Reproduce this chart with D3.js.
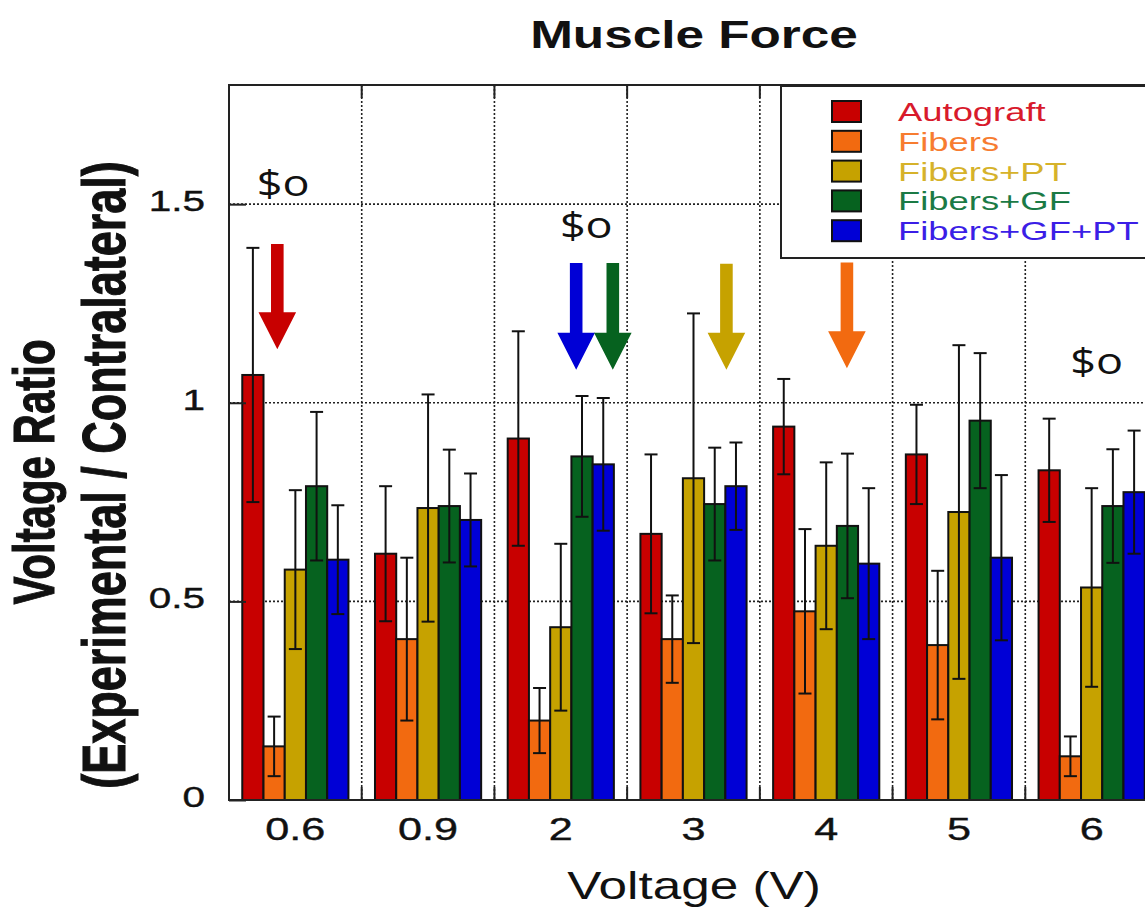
<!doctype html>
<html>
<head>
<meta charset="utf-8"/>
<title>Muscle Force</title>
<script src="https://d3js.org/d3.v7.min.js"></script>
<style>
 body { margin:0; background:#fff; }
</style>
</head>
<body>
<script type="text/javascript">
// ---- data ----
var groups = ["0.6", "0.9", "2", "3", "4", "5", "6"];
var series = ["Autograft", "Fibers", "Fibers+PT", "Fibers+GF", "Fibers+GF+PT"];

var autograft      = [1.07, 0.62, 0.91, 0.67, 0.94, 0.87, 0.83];
var autograftErr   = [0.32, 0.17, 0.27, 0.20, 0.12, 0.125, 0.13];
var fibers         = [0.135, 0.405, 0.20, 0.405, 0.475, 0.39, 0.11];
var fibersErr      = [0.075, 0.205, 0.082, 0.11, 0.207, 0.187, 0.05];
var fibersPT       = [0.58, 0.735, 0.435, 0.81, 0.64, 0.725, 0.535];
var fibersPTErr    = [0.20, 0.286, 0.21, 0.415, 0.21, 0.42, 0.25];
var fibersGF       = [0.79, 0.74, 0.865, 0.745, 0.69, 0.955, 0.74];
var fibersGFErr    = [0.187, 0.142, 0.152, 0.142, 0.182, 0.17, 0.143];
var fibersGFPT     = [0.605, 0.705, 0.845, 0.79, 0.595, 0.61, 0.775];
var fibersGFPTErr  = [0.137, 0.117, 0.167, 0.11, 0.19, 0.208, 0.155];

var yTicks = [0, 0.5, 1, 1.5];

// arrows: [group, series index, position inside group (0..1), top value, tip value]
var arrows = [
  ["0.6", 0, 0.33, 1.40, 1.135],
  ["2",   4, 0.645, 1.352, 1.083],
  ["2",   3, 0.99, 1.352, 1.083],
  ["3",   2, 0.81, 1.35, 1.083],
  ["4",   1, 0.695, 1.353, 1.087]
];
// "$o" marks: [group, position inside group, baseline value]
var marks = [
  ["0.6", 0.384, 1.52],
  ["2",   0.74, 1.416],
  ["6",   0.548, 1.073]
];

var values = [autograft, fibers, fibersPT, fibersGF, fibersGFPT];
var errors = [autograftErr, fibersErr, fibersPTErr, fibersGFErr, fibersGFPTErr];

var barColor  = ["#c80000", "#f26a10", "#c6a200", "#06621f", "#0000d6"];
var textColor = ["#d81a2c", "#f77c30", "#d6b22a", "#1b7a45", "#3b1ee6"];

// ---- layout ----
var W = 1145, H = 907;
var pLeft = 229, pTop = 85, pBottom = 800, pRight = 1158;
var SX = 1.35;   // the figure's text is stretched horizontally
var FONT = "'Liberation Sans', Arial, sans-serif";

var svg = d3.select("body").append("svg")
  .attr("width", W).attr("height", H);

var x0 = d3.scaleBand().domain(groups).range([pLeft, pRight])
  .paddingInner(0.2).paddingOuter(0.1);
var x1 = d3.scaleBand().domain(d3.range(series.length)).range([0, x0.bandwidth()]);
var y = d3.scaleLinear().domain([0, 1.8]).range([pBottom, pTop]);

var step = x0.step();
var bounds = d3.range(1, groups.length).map(function(i){ return pLeft + i * step; });

// grid
var grid = svg.append("g").attr("stroke", "#222").attr("stroke-width", 1.6)
  .attr("stroke-dasharray", "2,2");
grid.selectAll(".hg").data([0.5, 1, 1.5]).enter().append("line")
  .attr("x1", pLeft).attr("x2", pRight)
  .attr("y1", function(d){ return y(d); }).attr("y2", function(d){ return y(d); });
grid.selectAll(".vg").data(bounds).enter().append("line")
  .attr("x1", function(d){ return d; }).attr("x2", function(d){ return d; })
  .attr("y1", pTop).attr("y2", pBottom);

// boundary tick marks top & bottom
var tk = svg.append("g").attr("stroke", "#222").attr("stroke-width", 2);
tk.selectAll(".tt").data(bounds).enter().append("line")
  .attr("x1", function(d){ return d; }).attr("x2", function(d){ return d; })
  .attr("y1", pTop).attr("y2", pTop + 13);
tk.selectAll(".tb").data(bounds).enter().append("line")
  .attr("x1", function(d){ return d; }).attr("x2", function(d){ return d; })
  .attr("y1", pBottom).attr("y2", pBottom - 13);

// bars
var rows = [];
groups.forEach(function(g, gi){
  series.forEach(function(s, si){
    rows.push({g: g, si: si, v: values[si][gi], e: errors[si][gi]});
  });
});

svg.append("g").selectAll("rect").data(rows).enter().append("rect")
  .attr("x", function(d){ return x0(d.g) + x1(d.si); })
  .attr("y", function(d){ return y(d.v); })
  .attr("width", x1.bandwidth())
  .attr("height", function(d){ return y(0) - y(d.v); })
  .attr("fill", function(d){ return barColor[d.si]; })
  .attr("stroke", "#111").attr("stroke-width", 2);

// error bars
var eb = svg.append("g").attr("stroke", "#111").attr("stroke-width", 2);
rows.forEach(function(d){
  var cx = x0(d.g) + x1(d.si) + x1.bandwidth() / 2;
  eb.append("line").attr("x1", cx).attr("x2", cx)
    .attr("y1", y(d.v + d.e)).attr("y2", y(d.v - d.e));
  eb.append("line").attr("x1", cx - 6.5).attr("x2", cx + 6.5)
    .attr("y1", y(d.v + d.e)).attr("y2", y(d.v + d.e));
  eb.append("line").attr("x1", cx - 6.5).attr("x2", cx + 6.5)
    .attr("y1", y(d.v - d.e)).attr("y2", y(d.v - d.e));
});

// axes
var yAxis = svg.append("g").attr("transform", "translate(" + pLeft + ",0)")
  .call(d3.axisLeft(y).tickValues(yTicks).tickFormat(d3.format("")).tickSize(-17).tickPadding(24));
yAxis.select(".domain").remove();
yAxis.selectAll(".tick line").attr("stroke", "#222").attr("stroke-width", 2);
yAxis.selectAll(".tick text")
  .attr("x", 0).attr("dy", "0.21em")
  .attr("transform", "translate(-24,0) scale(" + SX + ",1)")
  .attr("font-family", FONT).attr("font-size", 30).attr("fill", "#111")
  .attr("stroke", "#111").attr("stroke-width", 0.4);

var xAxis = svg.append("g").attr("transform", "translate(0," + pBottom + ")")
  .call(d3.axisBottom(x0).tickSize(0).tickPadding(0));
xAxis.select(".domain").remove();
xAxis.selectAll(".tick text")
  .attr("y", 0).attr("dy", 0)
  .attr("transform", "translate(0,40) scale(" + SX + ",1)")
  .attr("font-family", FONT).attr("font-size", 32).attr("fill", "#111")
  .attr("stroke", "#111").attr("stroke-width", 0.4);

// frame
svg.append("path")
  .attr("d", "M" + pRight + "," + pTop + "H" + pLeft + "V" + pBottom + "H" + pRight)
  .attr("fill", "none").attr("stroke", "#222").attr("stroke-width", 2);

// legend
var lg = svg.append("g");
lg.append("rect").attr("x", 781).attr("y", 86).attr("width", 420).attr("height", 172)
  .attr("fill", "#fff").attr("stroke", "#222").attr("stroke-width", 2);
series.forEach(function(s, i){
  var ty = 101 + i * 29.8;
  lg.append("rect").attr("x", 832).attr("y", ty).attr("width", 29).attr("height", 21)
    .attr("fill", barColor[i]).attr("stroke", "#111").attr("stroke-width", 2);
  lg.append("text").text(s)
    .attr("transform", "translate(898," + (ty + 20) + ") scale(1.4,1)")
    .attr("font-family", FONT).attr("font-size", 26).attr("fill", textColor[i]);
});

// arrows
arrows.forEach(function(a){
  var cx = x0(a[0]) + a[2] * x0.bandwidth();
  var yt = y(a[3]), yp = y(a[4]), hl = 37, sw = 6.3, hw = 18.8;
  var pts = [[cx - sw, yt], [cx + sw, yt], [cx + sw, yp - hl], [cx + hw, yp - hl],
             [cx, yp], [cx - hw, yp - hl], [cx - sw, yp - hl]];
  svg.append("polygon").attr("points", pts.map(function(p){ return p.join(","); }).join(" "))
    .attr("fill", barColor[a[1]]);
});

// "$o" marks
marks.forEach(function(m){
  var cx = x0(m[0]) + m[1] * x0.bandwidth();
  svg.append("text").text("$o")
    .attr("transform", "translate(" + cx + "," + y(m[2]) + ") scale(1.25,1)")
    .attr("text-anchor", "middle")
    .attr("font-family", "'Open Sans', sans-serif").attr("font-size", 36).attr("fill", "#111");
});

// title and axis titles
svg.append("text").text("Muscle Force")
  .attr("transform", "translate(694,48) scale(" + SX + ",1)")
  .attr("text-anchor", "middle").attr("font-family", FONT)
  .attr("font-weight", "bold").attr("font-size", 38).attr("fill", "#111");

svg.append("text").text("Voltage (V)")
  .attr("transform", "translate(694,899) scale(" + SX + ",1)")
  .attr("text-anchor", "middle").attr("font-family", FONT)
  .attr("font-size", 38).attr("fill", "#111");

svg.append("text").text("Voltage Ratio")
  .attr("transform", "translate(54,472) scale(" + SX + ",1) rotate(-90)")
  .attr("text-anchor", "middle").attr("font-family", FONT)
  .attr("font-weight", "bold").attr("font-size", 42).attr("fill", "#111")
  .attr("stroke", "#111").attr("stroke-width", 0.8);

svg.append("text").text("(Experimental / Contralateral)")
  .attr("transform", "translate(125,475) scale(" + SX + ",1) rotate(-90)")
  .attr("text-anchor", "middle").attr("font-family", FONT)
  .attr("font-weight", "bold").attr("font-size", 45).attr("fill", "#111")
  .attr("stroke", "#111").attr("stroke-width", 0.8);
</script>
</body>
</html>
